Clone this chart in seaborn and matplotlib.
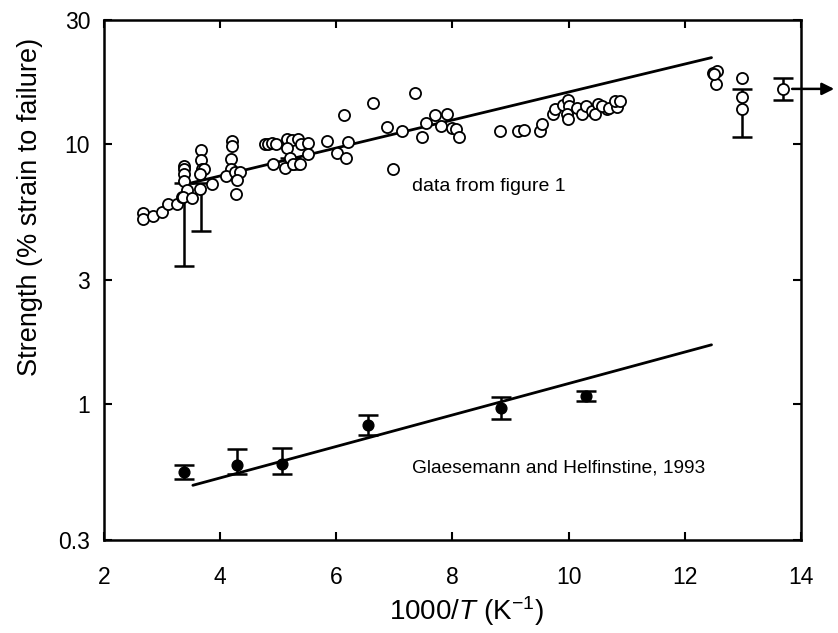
import matplotlib
matplotlib.use("Agg")
import matplotlib.pyplot as plt
import seaborn as sns
import pandas as pd
from matplotlib.ticker import FixedLocator, FixedFormatter, NullLocator

# ---- open circles: "data from figure 1" ----
open_x = [2.67, 2.67, 2.84, 3.00, 3.10, 3.26, 3.34,
          3.38, 3.38, 3.38, 3.38, 3.43, 3.36, 3.51,
          3.67, 3.67, 3.69, 3.72, 3.65, 3.86, 3.65,
          4.20, 4.20, 4.18, 4.18, 4.10, 4.25, 4.34, 4.29, 4.27,
          4.77, 4.82, 4.89, 4.96, 5.15, 5.24, 5.34, 5.39, 5.51, 5.15, 5.20,
          5.51, 4.91, 5.12, 5.25, 5.37, 5.84, 6.20, 6.01, 6.17, 6.13,
          6.63, 7.35, 6.87, 7.13, 7.47, 6.98, 7.54, 7.70, 7.90, 7.80, 7.99,
          8.06, 8.11, 8.82, 9.13,
          9.23, 9.50, 9.54, 9.73, 9.76, 9.90, 9.99, 10.00, 9.97, 9.99, 10.14,
          10.23, 10.30, 10.40, 10.50, 10.45, 10.66, 10.57, 10.70, 10.83, 10.80, 10.88,
          12.48, 12.55, 12.53, 12.50, 12.98, 12.98, 12.98, 13.69]
open_y = [5.42, 5.14, 5.27, 5.50, 5.88, 5.88, 6.23,
          8.22, 8.00, 7.70, 7.19, 6.63, 6.23, 6.18,
          9.48, 8.67, 8.00, 8.00, 7.66, 7.00, 6.70,
          10.26, 9.80, 8.76, 8.00, 7.53, 7.84, 7.80, 7.26, 6.41,
          10.0, 10.0, 10.1, 10.0, 10.5, 10.4, 10.5, 10.0, 10.1, 9.64, 8.83,
          9.15, 8.39, 8.08, 8.39, 8.39, 10.3, 10.2, 9.22, 8.83, 12.9,
          14.4, 15.7, 11.6, 11.2, 10.6, 8.0, 12.0, 12.9, 13.0, 11.7, 11.5,
          11.4, 10.6, 11.2, 11.2,
          11.3, 11.2, 11.9, 13.0, 13.6, 14.1, 14.8, 14.0, 13.1, 12.5, 13.8,
          13.1, 14.0, 13.4, 14.2, 13.1, 13.6, 14.0, 13.8, 13.9, 14.6, 14.6,
          18.8, 19.1, 17.0, 18.6, 18.0, 15.2, 13.6, 16.3]

# error bars on the open-circle data
open_err_x = [3.38, 3.67, 5.20, 12.98, 13.69]
open_err_y = [6.30, 6.70, 8.40, 15.2, 16.3]
open_err_lo = [3.41, 4.62, 8.05, 10.6, 14.8]
open_err_hi = [7.07, 7.07, 8.83, 16.3, 18.0]

# fitted line through open data
fit_open_x = [3.40, 12.46]
fit_open_y = [7.0, 21.5]

# ---- filled circles: Glaesemann and Helfinstine, 1993 ----
gh_x = [3.38, 4.29, 5.06, 6.54, 8.83, 10.30]
gh_y = [0.55, 0.585, 0.59, 0.83, 0.965, 1.07]
gh_lo = [0.517, 0.54, 0.54, 0.76, 0.875, 1.025]
gh_hi = [0.585, 0.67, 0.675, 0.905, 1.065, 1.12]

fit_gh_x = [3.53, 12.46]
fit_gh_y = [0.487, 1.69]

# axis ticks
xticks = [2, 4, 6, 8, 10, 12, 14]
yticks = [0.3, 1, 3, 10, 30]
ytick_labels = ["0.3", "1", "3", "10", "30"]

sns.set_theme(style="ticks")
plt.rcParams["font.family"] = ["Liberation Sans", "DejaVu Sans"]
plt.rcParams["mathtext.fontset"] = "custom"
plt.rcParams["mathtext.rm"] = "Liberation Sans"
plt.rcParams["mathtext.it"] = "Liberation Sans:italic"
for k in ["text.color", "axes.labelcolor", "xtick.color", "ytick.color",
          "xtick.labelcolor", "ytick.labelcolor", "axes.edgecolor"]:
    plt.rcParams[k] = "black"

fig = plt.figure(figsize=(8.38, 6.33), dpi=100)
ax = fig.add_axes([0.1241, 0.1469, 0.8317, 0.8215])
ax.set_yscale("log")

df_open = pd.DataFrame({"x": open_x, "y": open_y})
df_gh = pd.DataFrame({"x": gh_x, "y": gh_y})

# fit lines
sns.lineplot(x=fit_open_x, y=fit_open_y, ax=ax, color="black", lw=2.0, zorder=2)
sns.lineplot(x=fit_gh_x, y=fit_gh_y, ax=ax, color="black", lw=2.0, zorder=2)

# error bars
ax.errorbar(open_err_x, open_err_y,
            yerr=[[c - l for c, l in zip(open_err_y, open_err_lo)],
                  [h - c for c, h in zip(open_err_y, open_err_hi)]],
            fmt="none", ecolor="black", elinewidth=1.8, capsize=7, capthick=1.8, zorder=2)
ax.errorbar(gh_x, gh_y,
            yerr=[[c - l for c, l in zip(gh_y, gh_lo)],
                  [h - c for c, h in zip(gh_y, gh_hi)]],
            fmt="none", ecolor="black", elinewidth=1.8, capsize=7, capthick=1.8, zorder=2)

# points
sns.scatterplot(data=df_open, x="x", y="y", ax=ax, marker="o", s=64,
                color="white", edgecolor="black", linewidth=1.3, zorder=3, legend=False)
sns.scatterplot(data=df_gh, x="x", y="y", ax=ax, marker="o", s=60,
                color="black", edgecolor="black", linewidth=1.0, zorder=3, legend=False)

# arrow to the right of the last point
ax.annotate("", xy=(14.62, 16.3), xytext=(13.80, 16.3),
            arrowprops=dict(arrowstyle="-|>", lw=1.8, color="black", mutation_scale=18),
            annotation_clip=False)

ax.text(7.3, 6.88, "data from figure 1", fontsize=14, ha="left", va="center")
ax.text(7.3, 0.57, "Glaesemann and Helfinstine, 1993", fontsize=13.8, ha="left", va="center")

ax.set_xlim(2, 14)
ax.set_ylim(0.3, 30)
ax.xaxis.set_major_locator(FixedLocator(xticks))
ax.yaxis.set_major_locator(FixedLocator(yticks))
ax.yaxis.set_major_formatter(FixedFormatter(ytick_labels))
ax.yaxis.set_minor_locator(NullLocator())
ax.xaxis.set_minor_locator(NullLocator())
ax.tick_params(which="major", direction="in", length=6, width=1.5, labelsize=16.5,
               top=True, right=True, color="black", labelcolor="black")
ax.tick_params(axis="y", pad=10)
ax.tick_params(axis="x", pad=19)
for s in ax.spines.values():
    s.set_linewidth(1.8)
    s.set_color("black")
    s.set_visible(True)
ax.set_facecolor("white")

ax.set_xlabel(r"1000/$\mathit{T}$ (K$^{-1}$)", fontsize=20)
ax.set_ylabel("Strength (% strain to failure)", fontsize=19.5)
ax.xaxis.set_label_coords(0.52, -0.105)
ax.yaxis.set_label_coords(-0.087, 0.64)

fig.savefig("out.png", dpi=100, facecolor="white")
